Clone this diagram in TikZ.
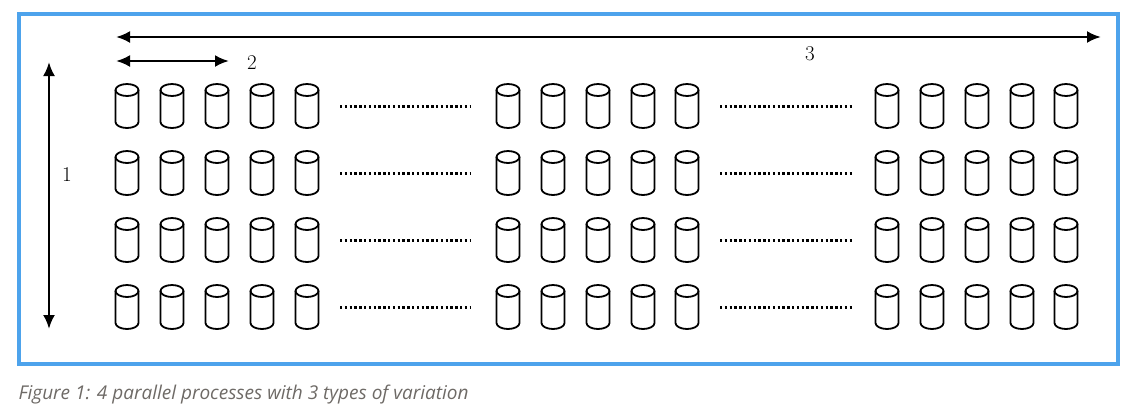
\documentclass[tikz,border=0pt]{standalone}
\usepackage{fontspec}
\newfontfamily\capfont{Open Sans}
\usetikzlibrary{arrows.meta}
\definecolor{frameblue}{HTML}{4DA3EC}
\definecolor{capgray}{HTML}{6E6A66}
\begin{document}
\begin{tikzpicture}[x=1pt,y=-1pt,
  dbl/.style={line width=2.6pt,{Latex[length=14pt,width=12pt]}-{Latex[length=14pt,width=12pt]}},
  dots/.style={line width=3pt,dash pattern=on 2.4pt off 2.4pt},
  lbl/.style={font=\fontsize{21}{21}\selectfont},
  pics/cyl/.style={code={
    \draw[line width=1.8pt] (-11.5,-16) -- (-11.5,16) arc[start angle=180,end angle=0,x radius=11.5,y radius=6]
      -- (11.5,-16);
    \draw[line width=1.8pt] (0,-16) ellipse[x radius=11.5,y radius=6];
  }}]
\useasboundingbox (0,0) rectangle (1138,418);
\draw[frameblue,line width=3.5pt] (19,14) rectangle (1118,364);
\coordinate (a3l) at (116,37); \coordinate (a3r) at (1101,37);
\coordinate (a2l) at (116,61); \coordinate (a2r) at (229,61);
\coordinate (a1t) at (49,62); \coordinate (a1b) at (49,329);
\draw[dbl] (a3l) -- (a3r);
\draw[dbl] (a2l) -- (a2r);
\draw[dbl] (a1t) -- (a1b);
\node[lbl] (l3) at (810,54) {3};
\node[lbl] (l2) at (252,63) {2};
\node[lbl] (l1) at (67,175) {1};
\foreach \y in {106,173,240,307}{
  \foreach \x in {127,172,217,262,307,508,553,598,643,687,887,932,977,1022,1066}
    \pic at (\x,\y) {cyl};
  \draw[dots] (340,\y) -- (470,\y);
  \draw[dots] (720,\y) -- (852,\y);
}
\node[anchor=west,text=capgray,font=\capfont\itshape\fontsize{19}{20}\selectfont] (cap) at (15,395) {Figure 1: 4 parallel processes with 3 types of variation};
\end{tikzpicture}
\end{document}
